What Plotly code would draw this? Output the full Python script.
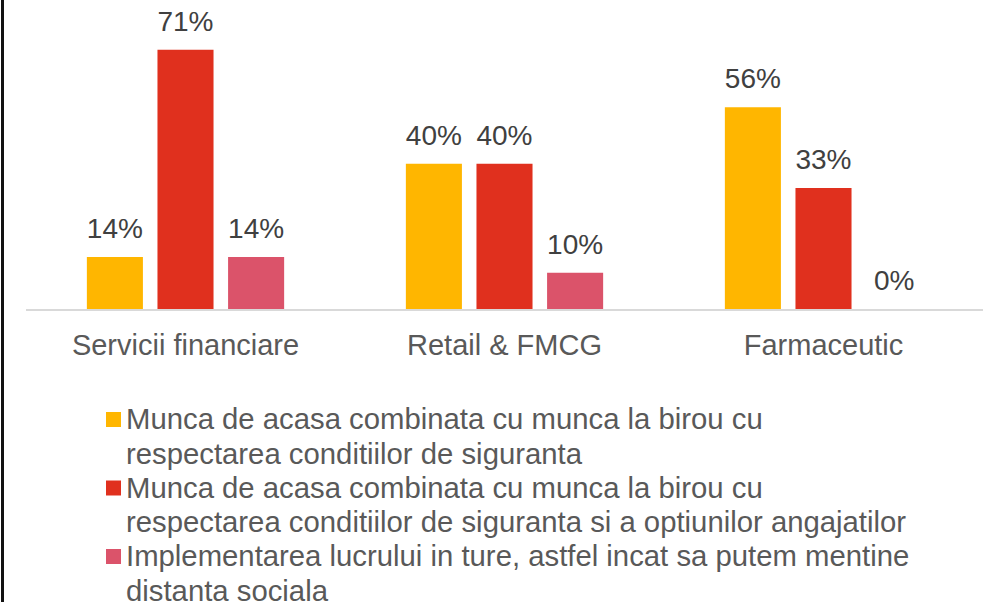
import plotly.graph_objects as go

# ---------------- data ----------------
categories = ["Servicii financiare", "Retail & FMCG", "Farmaceutic"]

legend_lines = [
    ["Munca de acasa combinata cu munca la birou cu",
     "respectarea conditiilor de siguranta"],
    ["Munca de acasa combinata cu munca la birou cu",
     "respectarea conditiilor de siguranta si a optiunilor angajatilor"],
    ["Implementarea lucrului in ture, astfel incat sa putem mentine",
     "distanta sociala"],
]
series_names = [" ".join(l) for l in legend_lines]

combinata_siguranta = [14.3, 40.0, 55.6]
combinata_optiuni = [71.4, 40.0, 33.3]
lucru_ture = [14.3, 10.0, 0.0]
series_values = [combinata_siguranta, combinata_optiuni, lucru_ture]

colors = ["#FFB600", "#E0301E", "#DB536A"]

# ---------------- layout constants ----------------
W, H = 987, 602
ML, MR, MT = 26, 4, 0
AXIS_Y = 309            # pixel row of the zero line
PX_PER_UNIT = 3.63
MB = H - AXIS_Y
PW = W - ML - MR
PH = AXIS_Y - MT
FONT = "Liberation Sans, Arial, sans-serif"


def px_x(px):
    return (px - ML) / PW


def px_y(py):
    return (AXIS_Y - py) / PH


fig = go.Figure()

for i, (name, vals, col) in enumerate(zip(series_names, series_values, colors)):
    fig.add_trace(go.Bar(
        x=categories, y=vals, name=name, marker_color=col,
        marker_line_width=0, offsetgroup=str(i), showlegend=False,
    ))

for i, vals in enumerate(series_values):
    fig.add_trace(go.Scatter(
        x=categories, y=vals, mode="markers+text",
        text=[f"{v:.0f}%" for v in vals], textposition="top center",
        textfont=dict(family=FONT, size=28, color="#404040"),
        marker=dict(size=17.6, opacity=0),
        offsetgroup=str(i), showlegend=False, hoverinfo="skip", cliponaxis=False,
    ))

# manual legend (symbol aligned with first text line)
LEG_SQ_X0, LEG_SQ = 106, 15
LEG_TEXT_X = 124
first_baselines = [429, 497.5, 566]
LINE_STEP = 34.2
fsz = 29.3
shapes = []
annotations = []
for lines, col, base in zip(legend_lines, colors, first_baselines):
    top = base - 17
    shapes.append(dict(type="rect", xref="paper", yref="paper",
                       x0=px_x(LEG_SQ_X0), x1=px_x(LEG_SQ_X0 + LEG_SQ),
                       y0=px_y(top), y1=px_y(top + LEG_SQ),
                       fillcolor=col, line_width=0))
    for k, ln in enumerate(lines):
        b = base + k * LINE_STEP
        annotations.append(dict(
            xref="paper", yref="paper", x=px_x(LEG_TEXT_X), y=px_y(b - 0.3465 * fsz),
            xanchor="left", yanchor="middle", text=ln, showarrow=False,
            font=dict(family=FONT, size=fsz, color="#595959")))

# left frame edge
shapes.append(dict(type="line", xref="paper", yref="paper",
                   x0=px_x(2.5), x1=px_x(2.5), y0=px_y(0), y1=px_y(H),
                   line=dict(color="#111111", width=3)))

fig.update_layout(
    width=W, height=H,
    margin=dict(l=ML, r=MR, t=MT, b=MB, pad=0),
    paper_bgcolor="white", plot_bgcolor="white",
    barmode="group", bargap=0.336, bargroupgap=0.206,
    scattermode="group", scattergap=0.336,
    showlegend=False,
    shapes=shapes, annotations=annotations,
    xaxis=dict(showgrid=False, showline=True, linecolor="#D9D9D9", linewidth=1.5,
               ticks="", ticklabelstandoff=9,
               tickfont=dict(family=FONT, size=29, color="#595959"),
               zeroline=False, fixedrange=True),
    yaxis=dict(visible=False, range=[0, PH / PX_PER_UNIT], showgrid=False,
               zeroline=False, fixedrange=True),
)

fig.write_html(
    "out.html",
    config={"displayModeBar": False},
    post_script="document.body.style.margin='0';document.body.style.overflow='hidden';",
)
